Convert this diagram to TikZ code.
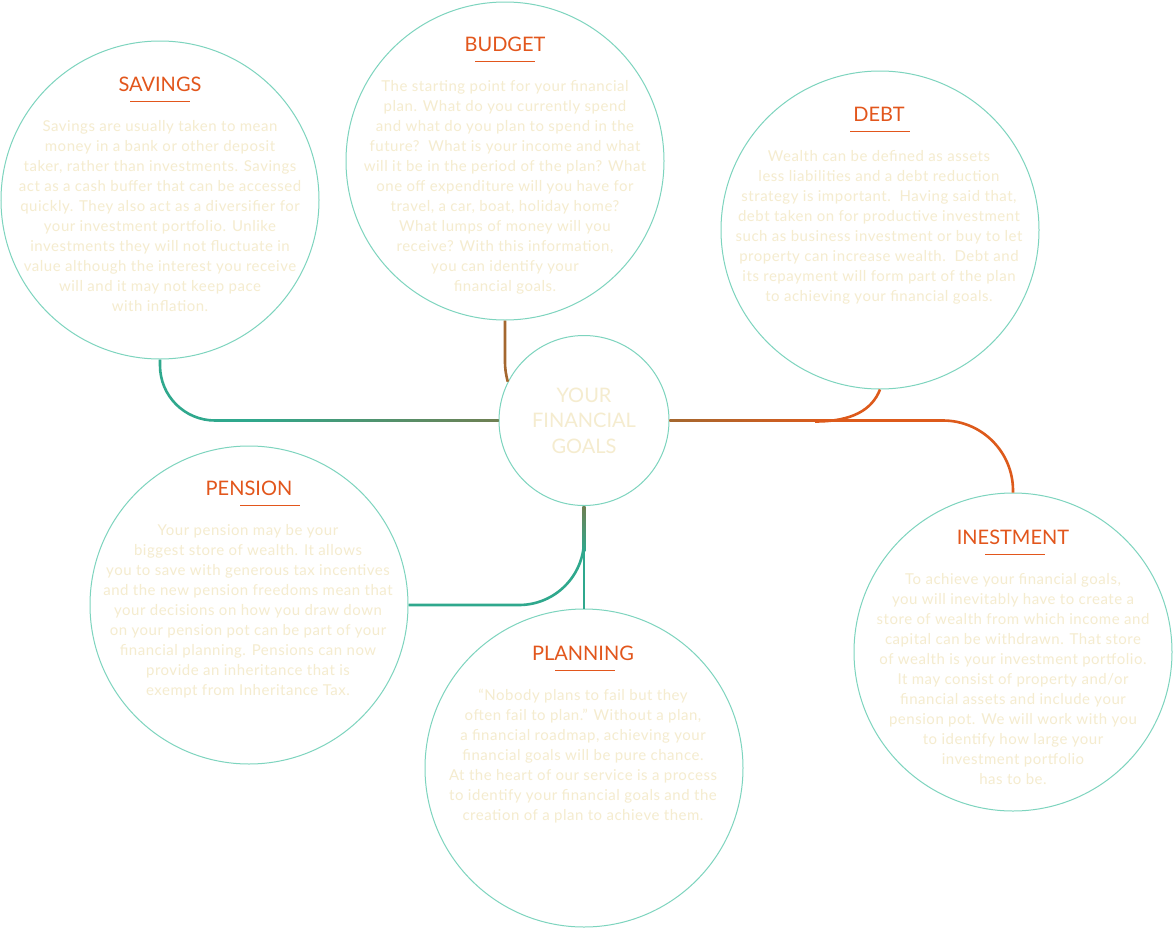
\documentclass[tikz,border=0pt]{standalone}
\usepackage{fontspec}
\setmainfont{Lato}
\newfontfamily\bodyfont[LetterSpace=3.5]{Lato}
\usetikzlibrary{calc}
\definecolor{ring}{HTML}{7DD4BE}
\definecolor{titleor}{HTML}{E2561C}
\definecolor{cream}{HTML}{F5ECCF}
\definecolor{tealc}{HTML}{2FA88D}
\definecolor{olivec}{HTML}{6F7F52}
\definecolor{brownc}{HTML}{A4672F}
\definecolor{orangec}{HTML}{DD5A1B}
\tikzset{
  bubble/.style={circle, draw=ring, line width=1pt, minimum size=318pt, inner sep=0pt},
  hub/.style={circle, draw=ring, line width=1pt, minimum size=170pt, inner sep=0pt},
  heading/.style={anchor=base, text=titleor, font=\fontsize{20}{24}\selectfont, inner sep=0pt},
  bodytext/.style={anchor=base, text=cream, font=\bodyfont\fontsize{15}{20}\selectfont, inner sep=0pt},
  hubtext/.style={anchor=base, text=cream, font=\fontsize{20}{25.7}\selectfont, inner sep=0pt},
  rule/.style={draw=titleor, line width=1pt},
  link/.style={line width=2.6pt},
}
\begin{document}
\begin{tikzpicture}[x=1pt,y=1pt]
\useasboundingbox (0,0) rectangle (1173,-929);
\fill[white] (0,0) rectangle (1173,-929);

% circles
\node[bubble] (sav)  at (160,-200) {};
\node[bubble] (bud)  at (505,-161) {};
\node[bubble] (debt) at (880,-230) {};
\node[hub]    (goal) at (584,-420.5) {};
\node[bubble] (pen)  at (249,-605) {};
\node[bubble] (plan) at (584,-768) {};
\node[bubble] (inv)  at (1013,-652) {};

% connectors
\draw[link, tealc, rounded corners=55pt] (sav.south) |- (goal.west);
\shade[left color=tealc, right color=olivec] ($(goal.west)+(-250,1.3)$) rectangle ($(goal.west)+(0,-1.3)$);

\draw[link, brownc] (bud.south) -- ++(0,-40) to[out=-90,in=105] (goal.153);

\draw[link, orangec, rounded corners=70pt] (goal.east) -| (inv.north);
\shade[left color=brownc, right color=orangec] ($(goal.east)+(0,1.3)$) rectangle ($(goal.east)+(160,-1.3)$);
\coordinate (dj) at (815,-421.5);
\draw[link, orangec] (debt.south) .. controls (872,-410) and (852,-421.5) .. (dj);

\draw[link, tealc, rounded corners=65pt] (goal.south) |- (pen.east);
\draw[link, tealc] (goal.south) -- (plan.north);
\shade[top color=olivec, bottom color=tealc] ($(goal.south)+(-1.3,0)$) rectangle ($(goal.south)+(1.3,-45)$);

% titles
\node[heading] (tsav)  at (160,-91)  {SAVINGS};
\node[heading] (tbud)  at (505,-51)  {BUDGET};
\node[heading] (tdebt) at (879,-121) {DEBT};
\node[heading] (tpen)  at (249,-495) {PENSION};
\node[heading] (tplan) at (583,-660) {PLANNING};
\node[heading] (tinv)  at (1013,-544) {INESTMENT};

\draw[rule] ($(tsav.base)+(-30,-10)$) -- ++(60,0);
\draw[rule] ($(tbud.base)+(-30,-10)$) -- ++(60,0);
\draw[rule] ($(tdebt.base)+(-29,-10)$) -- ++(60,0);
\draw[rule] ($(tpen.base)+(-9,-10)$) -- ++(60,0);
\draw[rule] ($(tplan.base)+(-28,-10)$) -- ++(60,0);
\draw[rule] ($(tinv.base)+(-28,-10)$) -- ++(60,0);

% body texts
\node[bodytext] (bsav) at (160,-131) {\begin{tabular}[t]{@{}c@{}}
Savings are usually taken to mean\\
money in a bank or other deposit\\
taker, rather than investments. Savings\\
act as a cash buffer that can be accessed\\
quickly. They also act as a diversifier for\\
your investment portfolio. Unlike\\
investments they will not fluctuate in\\
value although the interest you receive\\
will and it may not keep pace\\
with inflation.\end{tabular}};

\node[bodytext] (bbud) at (505,-91) {\begin{tabular}[t]{@{}c@{}}
The starting point for your financial\\
plan. What do you currently spend\\
and what do you plan to spend in the\\
future?\ \ What is your income and what\\
will it be in the period of the plan? What\\
one off expenditure will you have for\\
travel, a car, boat, holiday home?\\
What lumps of money will you\\
receive? With this information,\\
you can identify your\\
financial goals.\end{tabular}};

\node[bodytext] (bdebt) at (879,-161) {\begin{tabular}[t]{@{}c@{}}
Wealth can be defined as assets\\
less liabilities and a debt reduction\\
strategy is important.\ \ Having said that,\\
debt taken on for productive investment\\
such as business investment or buy to let\\
property can increase wealth.\ \ Debt and\\
its repayment will form part of the plan\\
to achieving your financial goals.\end{tabular}};

\node[bodytext] (bpen) at (248,-535) {\begin{tabular}[t]{@{}c@{}}
Your pension may be your\\
biggest store of wealth. It allows\\
you to save with generous tax incentives\\
and the new pension freedoms mean that\\
your decisions on how you draw down\\
on your pension pot can be part of your\\
financial planning. Pensions can now\\
provide an inheritance that is\\
exempt from Inheritance Tax.\end{tabular}};

\node[bodytext] (bplan) at (583,-700) {\begin{tabular}[t]{@{}c@{}}
“Nobody plans to fail but they\\
often fail to plan.” Without a plan,\\
a financial roadmap, achieving your\\
financial goals will be pure chance.\\
At the heart of our service is a process\\
to identify your financial goals and the\\
creation of a plan to achieve them.\end{tabular}};

\node[bodytext] (binv) at (1013,-584) {\begin{tabular}[t]{@{}c@{}}
To achieve your financial goals,\\
you will inevitably have to create a\\
store of wealth from which income and\\
capital can be withdrawn. That store\\
of wealth is your investment portfolio.\\
It may consist of property and/or\\
financial assets and include your\\
pension pot. We will work with you\\
to identify how large your\\
investment portfolio\\
has to be.\end{tabular}};

\node[hubtext] (hubt) at (584,-402) {\begin{tabular}[t]{@{}c@{}}YOUR\\ FINANCIAL\\ GOALS\end{tabular}};
\end{tikzpicture}
\end{document}
